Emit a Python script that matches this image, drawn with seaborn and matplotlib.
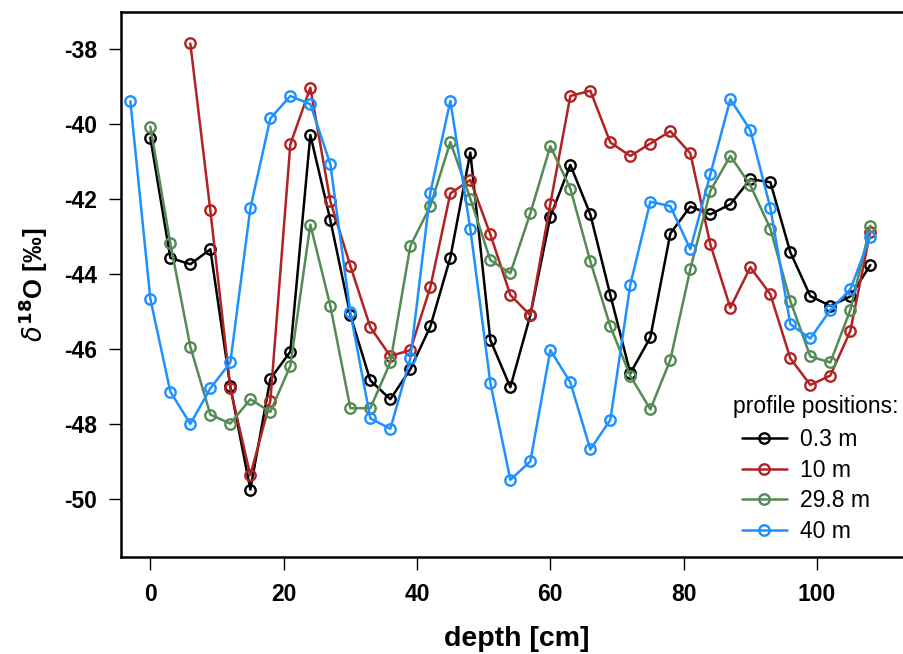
import numpy as np
import pandas as pd
import matplotlib
matplotlib.use("Agg")
import matplotlib.pyplot as plt
import seaborn as sns

depth_black = list(range(0, 109, 3))
val_black = [-40.36, -43.57, -43.74, -43.34, -47.0, -49.75, -46.8, -46.07, -40.29, -42.56,
             -45.1, -46.84, -47.34, -46.54, -45.4, -43.56, -40.76, -45.76, -47.02, -45.1,
             -42.47, -41.09, -42.41, -44.56, -46.65, -45.69, -42.92, -42.2, -42.41, -42.14,
             -41.47, -41.55, -43.42, -44.59, -44.85, -44.6, -43.76]

depth_red = list(range(6, 109, 3))
val_red = [-37.85, -42.3, -47.05, -49.37, -47.38, -40.54, -39.03, -42.06, -43.78, -45.42,
           -46.19, -46.03, -44.35, -41.85, -41.49, -42.94, -44.56, -45.1, -42.13, -39.25,
           -39.11, -40.49, -40.85, -40.52, -40.19, -40.78, -43.21, -44.9, -43.82, -44.54,
           -46.25, -46.96, -46.71, -45.52, -42.87]

depth_green = list(range(0, 109, 3))
val_green = [-40.07, -43.18, -45.94, -47.75, -47.99, -47.34, -47.68, -46.45, -42.68, -44.85,
             -47.58, -47.58, -46.36, -43.25, -42.19, -40.48, -41.99, -43.63, -43.98, -42.38,
             -40.59, -41.72, -43.66, -45.4, -46.72, -47.61, -46.29, -43.87, -41.78, -40.85,
             -41.63, -42.79, -44.72, -46.2, -46.36, -44.96, -42.71]

depth_blue = list(range(-3, 109, 3))
val_blue = [-39.39, -44.66, -47.14, -48.0, -47.05, -46.36, -42.25, -39.85, -39.25, -39.47,
            -41.07, -45.02, -47.85, -48.13, -46.25, -41.83, -39.38, -42.8, -46.9, -49.49,
            -49.0, -46.03, -46.89, -48.68, -47.89, -44.28, -42.07, -42.19, -43.34, -41.34,
            -39.34, -40.16, -42.23, -45.34, -45.72, -44.96, -44.41, -43.0]

labels = ["0.3 m", "10 m", "29.8 m", "40 m"]
colors = ["#000000", "#B22222", "#548B54", "#1E90FF"]
x_ticks = [0, 20, 40, 60, 80, 100]
y_ticks = [-38, -40, -42, -44, -46, -48, -50]

series = [(depth_black, val_black), (depth_red, val_red),
          (depth_green, val_green), (depth_blue, val_blue)]

sns.set_style("white")
plt.rcParams['font.family'] = ['Liberation Sans', 'DejaVu Sans']
plt.rcParams['axes.unicode_minus'] = False
plt.rcParams['text.color'] = 'black'
plt.rcParams['axes.labelcolor'] = 'black'
plt.rcParams['xtick.color'] = 'black'
plt.rcParams['ytick.color'] = 'black'

fig = plt.figure(figsize=(9.04, 6.54), dpi=100)
ax = fig.add_axes([121/904, 1 - 557/654, (913 - 121)/904, (557 - 12)/654])

for (d, v), lab, col in zip(series, labels, colors):
    df = pd.DataFrame({"depth": d, "d18O": v})
    sns.lineplot(data=df, x="depth", y="d18O", ax=ax, color=col, label=lab,
                 marker="o", markersize=7.5, markerfacecolor="none",
                 markeredgecolor=col, markeredgewidth=1.7, linewidth=1.8,
                 sort=False)

ax.set_xlim(-4.4, 114.4)
ax.set_ylim(-51.55, -37.01)
ax.set_xticks(x_ticks)
ax.set_yticks(y_ticks)
ax.tick_params(axis="both", direction="out", length=9, width=1, color="black",
               labelcolor="black", labelsize=16.5, bottom=True, left=True)
ax.tick_params(axis="x", pad=10)
ax.tick_params(axis="y", pad=8)
for lbl in ax.get_xticklabels() + ax.get_yticklabels():
    lbl.set_fontweight("bold")

for sp in ["left", "bottom", "top", "right"]:
    ax.spines[sp].set_color("black")
    ax.spines[sp].set_linewidth(1.8)

ax.set_xlabel("depth [cm]", fontsize=20.5, fontweight="bold", labelpad=14, color="black")
ax.set_ylabel(r"$\delta^{\mathbf{18}}$O [‰]", fontsize=18.5, fontweight="bold",
              labelpad=10, color="black")

fig.text(733/904, 1 - 413/654, "profile positions:", fontsize=16.5, color="black",
         ha="left", va="baseline")
leg = ax.legend(frameon=False, loc="upper left",
                bbox_to_anchor=(742/904, 1 - 428/654), bbox_transform=fig.transFigure,
                fontsize=16.5, handlelength=1.95, handletextpad=0.6,
                labelspacing=0.33, borderaxespad=0, borderpad=0)
for t in leg.get_texts():
    t.set_color("black")

fig.savefig("out.png", dpi=100)
